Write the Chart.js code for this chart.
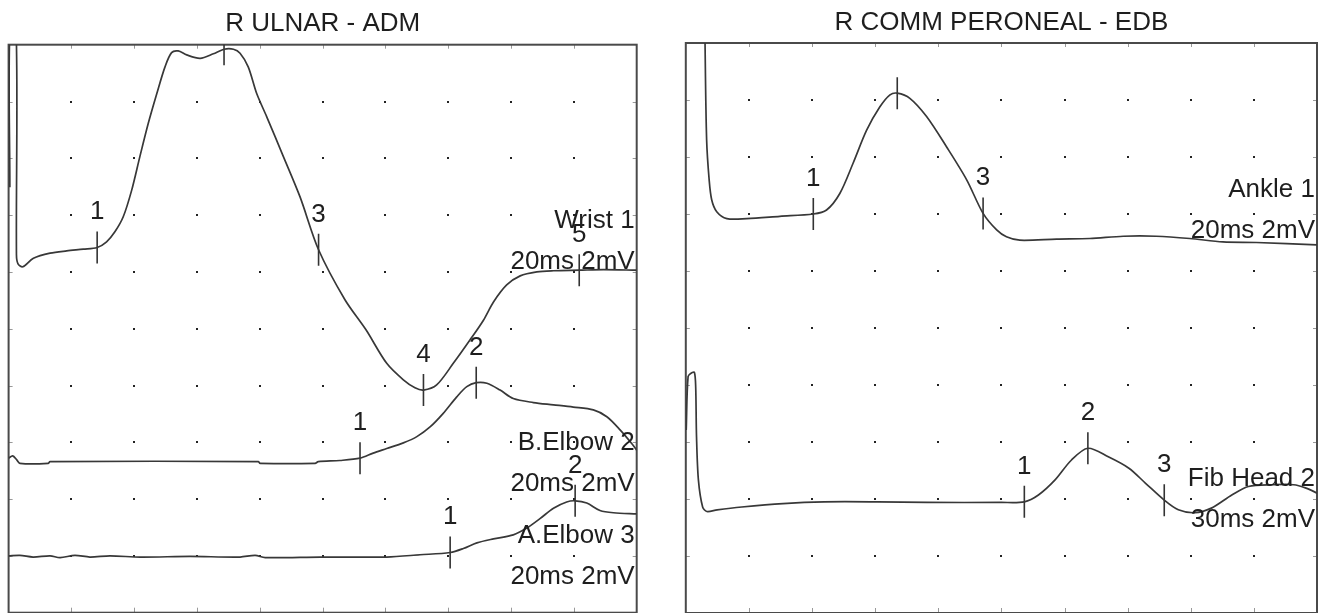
<!DOCTYPE html>
<html lang="en">
<head>
  <meta charset="UTF-8">
  <title>R ULNAR - ADM / R COMM PERONEAL - EDB</title>
  <script src="https://cdn.jsdelivr.net/npm/chart.js"></script>
  <style>
    html, body { margin: 0; padding: 0; background: #fff; overflow: hidden; }
    canvas { position: absolute; top: 0; }
    #ulnar { left: 0; }
    #peroneal { left: 665px; }
  </style>
</head>
<body>
  <canvas id="ulnar" width="660" height="640"></canvas>
  <canvas id="peroneal" width="660" height="640"></canvas>

  <script>
    // x = time in ms, y = screen divisions counted down from the top of the trace window

    // R ULNAR - ADM, 20 ms sweep
    const wristX = [0.04, 0.04, 0.24, 0.25, 0.30, 0.45, 0.79, 1.32, 1.85, 2.38, 2.82, 3.12, 3.39, 3.65, 3.92, 4.18, 4.45, 4.72, 4.98, 5.19, 5.40, 5.67, 6.10, 6.52, 6.86, 7.16, 7.37, 7.63, 7.90, 8.22, 8.75, 9.28, 9.87, 10.71, 11.38, 12.04, 12.57, 12.94, 13.21, 13.63, 14.16, 14.69, 15.12, 15.44, 15.86, 16.29, 16.82, 17.35, 18.17, 18.94, 20.00];
    const wristY = [2.51, -0.26, -0.26, 3.70, 3.86, 3.91, 3.76, 3.67, 3.63, 3.60, 3.57, 3.47, 3.29, 3.03, 2.56, 1.97, 1.38, 0.86, 0.39, 0.14, 0.11, 0.18, 0.24, 0.16, 0.08, 0.08, 0.15, 0.39, 0.86, 1.27, 1.97, 2.68, 3.61, 4.49, 5.02, 5.61, 5.90, 6.04, 6.08, 5.99, 5.61, 5.20, 4.85, 4.53, 4.23, 4.07, 4.00, 3.98, 3.97, 3.96, 3.97];
    const wristMarkX = [2.82, 6.86, 9.87, 13.21, 18.17];
    const wristMarkY = [3.57, 0.08, 3.61, 6.08, 3.97];
    const wristMarks = ['1', '2', '3', '4', '5'];

    const bElbowX = [0, 0.13, 0.26, 0.36, 1.26, 1.32, 7.95, 8.01, 9.76, 9.86, 10.55, 11.19, 11.61, 12.04, 12.57, 13.00, 13.42, 13.84, 14.27, 14.59, 14.89, 15.23, 15.65, 16.07, 16.71, 17.35, 17.98, 18.62, 19.05, 19.47, 19.84, 20.00];
    const bElbowY = [7.28, 7.24, 7.31, 7.37, 7.37, 7.34, 7.34, 7.37, 7.37, 7.34, 7.32, 7.28, 7.19, 7.11, 7.01, 6.90, 6.73, 6.49, 6.20, 6.02, 5.95, 5.96, 6.08, 6.23, 6.30, 6.34, 6.38, 6.43, 6.55, 6.78, 7.02, 7.14];
    const bElbowMarkX = [11.19, 14.89];
    const bElbowMarkY = [7.28, 5.95];
    const bElbowMarks = ['1', '2'];

    const aElbowX = [0, 0.36, 0.78, 1.32, 1.64, 2.11, 2.59, 3.23, 4.19, 5.78, 7.37, 7.85, 8.17, 9.92, 12.04, 13.10, 14.06, 14.48, 14.91, 15.44, 16.07, 16.50, 16.93, 17.35, 17.77, 18.04, 18.41, 18.83, 19.26, 20.00];
    const aElbowY = [9.00, 8.99, 9.02, 9.00, 9.03, 8.99, 9.02, 9.00, 9.02, 9.01, 9.02, 8.99, 9.03, 9.02, 9.02, 8.98, 8.94, 8.87, 8.77, 8.70, 8.63, 8.51, 8.34, 8.16, 8.05, 8.03, 8.07, 8.20, 8.24, 8.26];
    const aElbowMarkX = [14.06, 18.04];
    const aElbowMarkY = [8.94, 8.03];
    const aElbowMarks = ['1', '2'];

    const ulnarNames = ['Wrist 1', 'B.Elbow 2', 'A.Elbow 3'];
    const ulnarSweeps = ['20ms 2mV', '20ms 2mV', '20ms 2mV'];

    // R COMM PERONEAL - EDB, ankle 20 ms sweep, fibular head 30 ms sweep
    const ankleX = [0.61, 0.61, 0.66, 0.74, 0.82, 0.98, 1.30, 1.93, 2.98, 4.04, 4.46, 4.88, 5.30, 5.73, 6.15, 6.47, 6.70, 7.10, 7.63, 8.26, 8.90, 9.42, 9.85, 10.16, 10.58, 11.75, 12.80, 13.86, 14.91, 15.97, 17.02, 18.08, 20.00];
    const ankleY = [-0.40, 0.01, 1.70, 2.40, 2.75, 2.96, 3.08, 3.08, 3.04, 3.00, 2.93, 2.64, 2.11, 1.53, 1.12, 0.91, 0.88, 0.97, 1.29, 1.82, 2.40, 2.99, 3.28, 3.40, 3.46, 3.44, 3.43, 3.39, 3.39, 3.43, 3.49, 3.50, 3.54];
    const ankleMarkX = [4.04, 6.70, 9.42];
    const ankleMarkY = [3.00, 0.88, 2.99];
    const ankleMarks = ['1', '', '3'];

    const fibX = [0.02, 0.11, 0.27, 0.41, 0.47, 0.51, 0.60, 0.80, 1.00, 1.49, 2.66, 4.62, 6.58, 9.12, 11.47, 14.99, 16.09, 16.76, 17.54, 18.32, 19.11, 20.08, 21.06, 21.84, 22.74, 23.41, 24.19, 24.98, 25.95, 26.74, 27.91, 28.89, 29.48, 30.03];
    const fibY = [6.79, 5.85, 5.79, 5.78, 6.03, 6.91, 7.67, 8.14, 8.22, 8.19, 8.14, 8.08, 8.05, 8.05, 8.06, 8.06, 8.05, 7.93, 7.67, 7.32, 7.11, 7.26, 7.46, 7.72, 8.02, 8.19, 8.24, 8.16, 7.93, 7.78, 7.75, 7.75, 7.81, 7.90];
    const fibMarkX = [16.09, 19.11, 22.74];
    const fibMarkY = [8.05, 7.11, 8.02];
    const fibMarks = ['1', '2', '3'];

    const peronealNames = ['Ankle 1', 'Fib Head 2'];
    const peronealSweeps = ['20ms 2mV', '30ms 2mV'];

    // where the trace names sit (divisions from top)
    const ulnarLabelRows = [3.23, 7.14, 8.77];
    const peronealLabelRows = [2.70, 7.77];

    Chart.defaults.font.family = '"Liberation Sans", Arial, Helvetica, sans-serif';
    Chart.defaults.color = '#1e1e1e';

    const INK = '#333';

    function pts(xs, ys) {
      return xs.map((x, i) => ({ x: x, y: ys[i] }));
    }

    function trace(xs, ys, axis) {
      return {
        data: pts(xs, ys),
        xAxisID: axis || 'x',
        borderColor: '#383838',
        borderWidth: 1.7,
        pointRadius: 0,
        tension: 0.3,
        fill: false,
        clip: 0
      };
    }

    // cursor marks: short vertical strokes on the trace
    function marks(xs, ys, labels, axis) {
      return {
        data: pts(xs, ys),
        xAxisID: axis || 'x',
        marks: labels,
        showLine: false,
        pointStyle: 'line',
        pointRotation: 90,
        pointRadius: 16,
        pointBorderColor: INK,
        pointBorderWidth: 1.6,
        clip: 0
      };
    }

    // dotted graticule, frame, cursor numbers and trace captions
    const scopePlugin = {
      id: 'scope',
      beforeDatasetsDraw(chart) {
        const ctx = chart.ctx;
        const a = chart.chartArea;
        const xs = chart.scales.x, ys = chart.scales.y;
        ctx.save();
        ctx.fillStyle = '#222';
        for (let i = 1; i < 10; i++) {
          const px = xs.getPixelForValue(xs.min + (xs.max - xs.min) * i / 10);
          for (let j = 1; j < 10; j++) {
            const py = ys.getPixelForValue(j);
            ctx.fillRect(Math.round(px) - 1, Math.round(py) - 1, 2, 2);
          }
        }
        ctx.strokeStyle = '#999';
        ctx.lineWidth = 1;
        ctx.beginPath();
        for (let i = 1; i < 10; i++) {
          const px = Math.round(xs.getPixelForValue(xs.min + (xs.max - xs.min) * i / 10)) + 0.5;
          const py = Math.round(ys.getPixelForValue(i)) + 0.5;
          ctx.moveTo(px, a.top); ctx.lineTo(px, a.top + 4);
          ctx.moveTo(px, a.bottom); ctx.lineTo(px, a.bottom - 5);
          ctx.moveTo(a.left, py); ctx.lineTo(a.left + 4, py);
          ctx.moveTo(a.right, py); ctx.lineTo(a.right - 4, py);
        }
        ctx.stroke();
        ctx.strokeStyle = '#4a4a4a';
        ctx.lineWidth = 2;
        ctx.strokeRect(a.left, a.top, a.width, a.height);
        ctx.restore();
      },
      afterDatasetsDraw(chart, args, opts) {
        const ctx = chart.ctx;
        const a = chart.chartArea;
        const ys = chart.scales.y;
        ctx.save();
        ctx.beginPath();
        ctx.rect(a.left, a.top, a.width, a.height);
        ctx.clip();
        ctx.fillStyle = '#1e1e1e';
        ctx.font = '26px "Liberation Sans", Arial, sans-serif';
        ctx.textBaseline = 'alphabetic';

        ctx.textAlign = 'center';
        chart.data.datasets.forEach((ds, i) => {
          if (!ds.marks) return;
          chart.getDatasetMeta(i).data.forEach((p, k) => {
            if (ds.marks[k]) ctx.fillText(ds.marks[k], p.x, p.y - 28);
          });
        });

        ctx.textAlign = 'right';
        opts.names.forEach((name, k) => {
          const py = ys.getPixelForValue(opts.rows[k]);
          ctx.fillText(name, a.right - 2, py);
          ctx.fillText(opts.sweeps[k], a.right - 2, py + 41);
        });
        ctx.restore();
      }
    };

    function scopeOptions(title, pad, titlePad, extraScales, labels) {
      const scales = Object.assign({
        x: { type: 'linear', min: 0, max: 20, display: false },
        y: { type: 'linear', min: 0, max: 10, reverse: true, display: false }
      }, extraScales);
      return {
        responsive: false,
        devicePixelRatio: 1,
        animation: false,
        events: [],
        layout: { padding: pad, autoPadding: false },
        scales: scales,
        plugins: {
          legend: { display: false },
          tooltip: { enabled: false },
          title: {
            display: true,
            text: title,
            fullSize: false,
            color: '#1e1e1e',
            font: { size: 26, weight: 'normal' },
            padding: titlePad
          },
          scope: labels
        }
      };
    }

    new Chart(document.getElementById('ulnar'), {
      type: 'line',
      data: {
        datasets: [
          trace(wristX, wristY),
          trace(bElbowX, bElbowY),
          trace(aElbowX, aElbowY),
          marks(wristMarkX, wristMarkY, wristMarks),
          marks(bElbowMarkX, bElbowMarkY, bElbowMarks),
          marks(aElbowMarkX, aElbowMarkY, aElbowMarks)
        ]
      },
      options: scopeOptions('R ULNAR - ADM',
        { left: 8.6, right: 23.3, top: 0, bottom: 27.3 },
        { top: 8.4, bottom: 5.1 },
        {},
        { names: ulnarNames, sweeps: ulnarSweeps, rows: ulnarLabelRows }),
      plugins: [scopePlugin]
    });

    new Chart(document.getElementById('peroneal'), {
      type: 'line',
      data: {
        datasets: [
          trace(ankleX, ankleY),
          trace(fibX, fibY, 'x2'),
          marks(ankleMarkX, ankleMarkY, ankleMarks),
          marks(fibMarkX, fibMarkY, fibMarks, 'x2')
        ]
      },
      options: scopeOptions('R COMM PERONEAL - EDB',
        { left: 20.8, right: 8, top: 0, bottom: 27 },
        { top: 7, bottom: 4.8 },
        { x2: { type: 'linear', axis: 'x', position: 'bottom', min: 0, max: 30, display: false } },
        { names: peronealNames, sweeps: peronealSweeps, rows: peronealLabelRows }),
      plugins: [scopePlugin]
    });
  </script>
</body>
</html>
